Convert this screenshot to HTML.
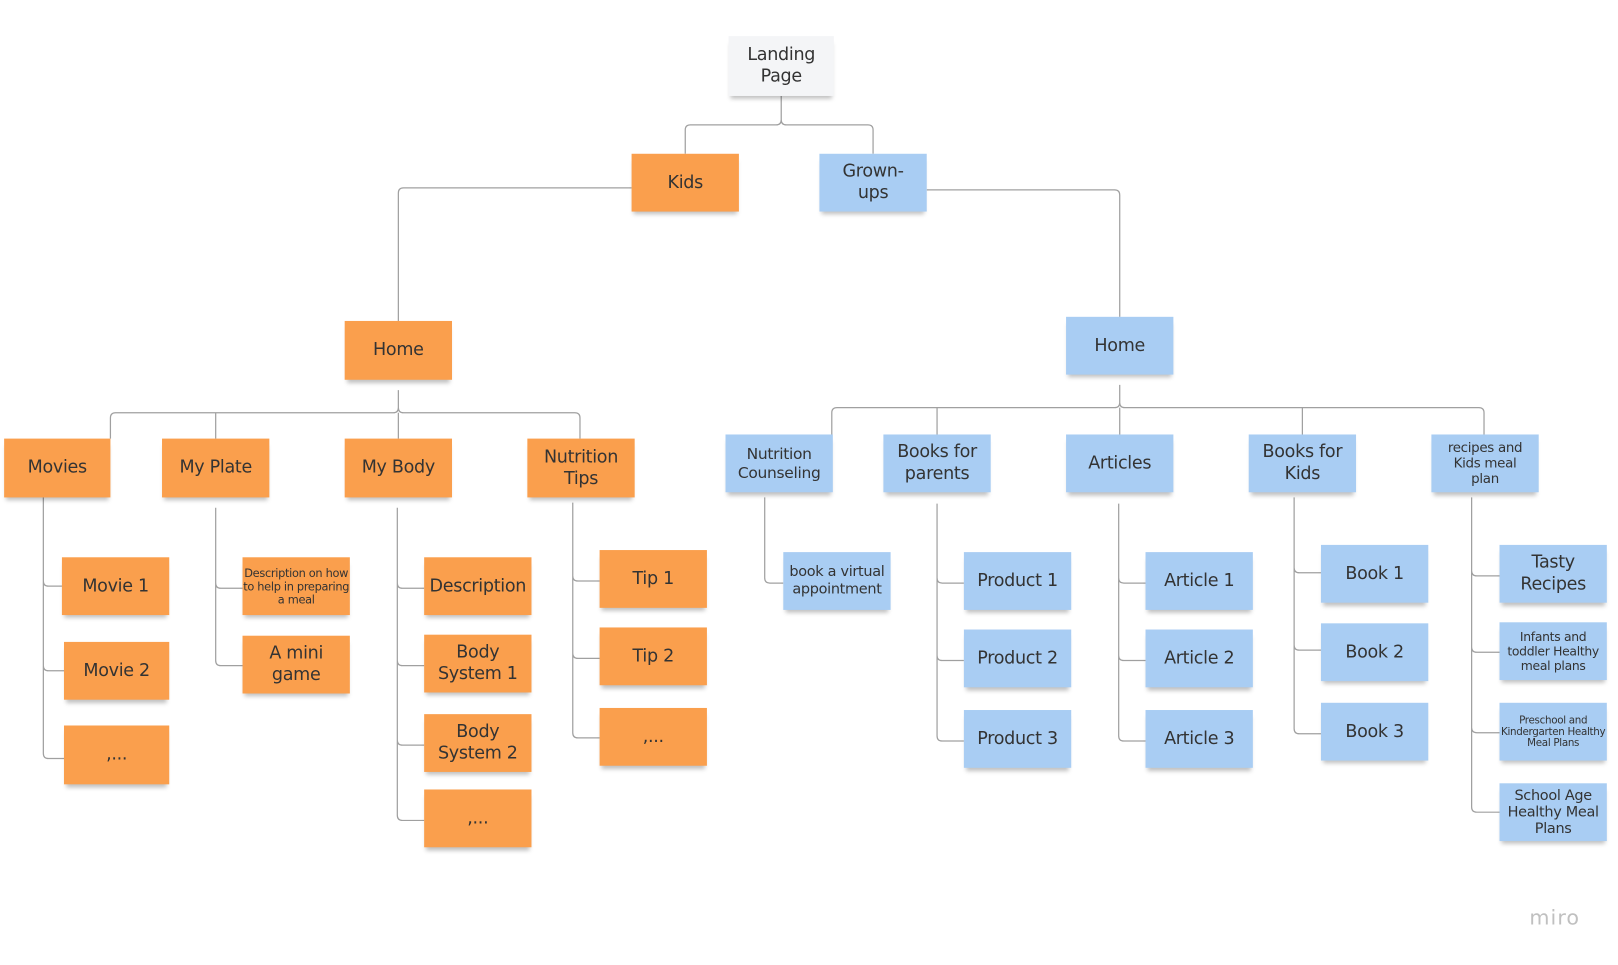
<!DOCTYPE html>
<html><head><meta charset="utf-8"><style>
html,body{margin:0;padding:0;background:#fff;}
body{width:1618px;height:965px;overflow:hidden;position:relative;}
#w{position:absolute;left:0;top:0;width:1560px;height:930px;transform:scale(1.032,1.032);transform-origin:0 0;}
.b{position:absolute;width:104px;height:56px;display:flex;align-items:center;justify-content:center;text-align:center;font-family:"DejaVu Sans","Liberation Sans",sans-serif;font-size:17px;line-height:21px;color:#333;box-shadow:0 5px 4px -2px rgba(0,0,0,.25);letter-spacing:-0.3px;}
.o{background:#fa9f4d;}
.u{background:#a9cdf3;}
.g{background:#f4f5f7;}
.s{font-size:11px;line-height:13px;}
.m{font-size:13px;line-height:15px;}
.x{font-size:10px;line-height:11px;}
svg{position:absolute;left:0;top:0;}
</style></head><body><div id="w">
<svg width="1560" height="930" fill="none" stroke="#a0a0a0" stroke-width="1.2">
<path d="M757 93V116q0 5-5 5H669q-5 0-5 5V149M757 116q0 5 5 5H841q5 0 5 5V149"/>
<path d="M612 182H391q-5 0-5 5V311"/>
<path d="M898 184H1080q5 0 5 5V307"/>
<path d="M386 378V395q0 5-5 5H112q-5 0-5 5V425M386 395q0 5 5 5H557q5 0 5 5V425M209 400V425M386 400V425"/>
<path d="M1085 373V390q0 5-5 5H811q-5 0-5 5V421M1085 390q0 5 5 5H1433q5 0 5 5V421M908 395V421M1085 395V421M1262 395V421"/>
<path d="M42 482V730q0 5 5 5H62M42 563q0 5 5 5H60M42 645q0 5 5 5H62"/>
<path d="M209 492V640q0 5 5 5H235M209 565q0 5 5 5H235"/>
<path d="M385 492V790q0 5 5 5H411M385 565q0 5 5 5H411M385 640q0 5 5 5H411M385 717q0 5 5 5H411"/>
<path d="M555 487V710q0 5 5 5H581M555 558q0 5 5 5H581M555 633q0 5 5 5H581"/>
<path d="M741 482V560q0 5 5 5H759"/>
<path d="M908 488V713q0 5 5 5H934M908 560q0 5 5 5H934M908 635q0 5 5 5H934"/>
<path d="M1084 488V713q0 5 5 5H1110M1084 560q0 5 5 5H1110M1084 635q0 5 5 5H1110"/>
<path d="M1254 482V706q0 5 5 5H1280M1254 550q0 5 5 5H1280M1254 625q0 5 5 5H1280"/>
<path d="M1426 482V782q0 5 5 5H1453M1426 553q0 5 5 5H1453M1426 627q0 5 5 5H1453M1426 705q0 5 5 5H1453"/>
</svg>
<div class="b g" style="left:706px;top:35px;width:102px;height:58px">Landing<br>Page</div>
<div class="b o" style="left:612px;top:149px">Kids</div>
<div class="b u" style="left:794px;top:149px">Grown-<br>ups</div>
<div class="b o" style="left:334px;top:311px;height:57px">Home</div>
<div class="b u" style="left:1033px;top:307px">Home</div>
<div class="b o" style="left:4px;top:425px;width:103px;height:57px">Movies</div>
<div class="b o" style="left:157px;top:425px;height:57px">My Plate</div>
<div class="b o" style="left:334px;top:425px;height:57px">My Body</div>
<div class="b o" style="left:511px;top:425px;height:57px">Nutrition<br>Tips</div>
<div class="b u m" style="left:703px;top:421px;font-size:15px;line-height:18px">Nutrition<br>Counseling</div>
<div class="b u" style="left:856px;top:421px">Books for<br>parents</div>
<div class="b u" style="left:1033px;top:421px">Articles</div>
<div class="b u" style="left:1210px;top:421px">Books for<br>Kids</div>
<div class="b u m" style="left:1387px;top:421px">recipes and<br>Kids meal<br>plan</div>
<div class="b o" style="left:60px;top:540px">Movie 1</div>
<div class="b o" style="left:62px;top:622px;width:102px">Movie 2</div>
<div class="b o" style="left:62px;top:703px;width:102px;height:57px">,...</div>
<div class="b o s" style="left:235px;top:540px">Description on how to help in preparing a meal</div>
<div class="b o" style="left:235px;top:616px">A mini<br>game</div>
<div class="b o" style="left:411px;top:540px">Description</div>
<div class="b o" style="left:411px;top:615px">Body<br>System 1</div>
<div class="b o" style="left:411px;top:692px">Body<br>System 2</div>
<div class="b o" style="left:411px;top:765px">,...</div>
<div class="b o" style="left:581px;top:533px">Tip 1</div>
<div class="b o" style="left:581px;top:608px">Tip 2</div>
<div class="b o" style="left:581px;top:686px">,...</div>
<div class="b u m" style="left:759px;top:535px;font-size:14px;line-height:17px">book a virtual<br>appointment</div>
<div class="b u" style="left:934px;top:535px">Product 1</div>
<div class="b u" style="left:934px;top:610px">Product 2</div>
<div class="b u" style="left:934px;top:688px">Product 3</div>
<div class="b u" style="left:1110px;top:535px">Article 1</div>
<div class="b u" style="left:1110px;top:610px">Article 2</div>
<div class="b u" style="left:1110px;top:688px">Article 3</div>
<div class="b u" style="left:1280px;top:528px">Book 1</div>
<div class="b u" style="left:1280px;top:604px">Book 2</div>
<div class="b u" style="left:1280px;top:681px">Book 3</div>
<div class="b u" style="left:1453px;top:528px">Tasty<br>Recipes</div>
<div class="b u m" style="left:1453px;top:603px;font-size:12px;line-height:14px">Infants and toddler Healthy meal plans</div>
<div class="b u x" style="left:1453px;top:681px">Preschool and Kindergarten Healthy Meal Plans</div>
<div class="b u m" style="left:1453px;top:759px;font-size:14px;line-height:16px">School Age Healthy Meal Plans</div>
<div style="position:absolute;left:1482px;top:877px;font-family:'DejaVu Sans',sans-serif;font-size:20px;color:#c0c0c0;letter-spacing:1px">miro</div>
</div></body></html>
